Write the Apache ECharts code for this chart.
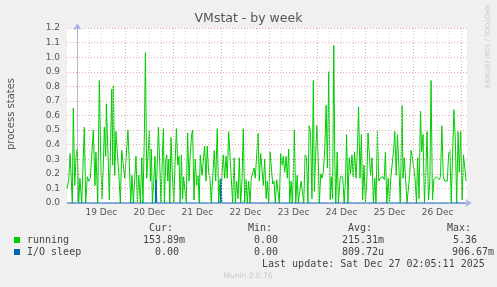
<!DOCTYPE html>
<html><head><meta charset="utf-8">
<script src="https://cdn.jsdelivr.net/npm/echarts@6/dist/echarts.min.js"></script>
<style>html,body{margin:0;padding:0;background:#f0f0f0;}#c{width:497px;height:287px;}</style>
</head><body><div id="c"></div>
<script>
// hours relative to Thu 19 Dec 00:00
const dayLabels = ['19 Dec','20 Dec','21 Dec','22 Dec','23 Dec','24 Dec','25 Dec','26 Dec'];
const dayLabelHours = [12,36,60,84,108,132,156,180];
const runningHours = [
-5.1,-4.3,-3.6,-3.0,-2.5,-2.0,-1.3,-0.6,0,0.7,1.3,2.2,3.5,4.2,5.0,5.7,6.5,7.2,8.0,8.8,9.3,10.2,11.0,11.7,12.3,13.0,13.5,14.2,14.5,15.3,16.0,16.7,17.2,17.7,18.0,18.7,19.3,20.2,20.7,21.5,22.2,23.0,23.7,24.3,25.3,26.0,26.7,27.3,28.0,
28.7,29.3,30.0,30.7,31.5,32.2,32.8,33.5,34.0,34.7,35.3,36.0,36.5,37.0,37.5,38.2,38.8,39.3,39.8,40.5,41.2,41.8,42.5,43.0,43.5,44.2,44.7,45.2,45.7,46.2,46.8,47.5,48.2,48.8,49.5,50.2,50.8,51.4,52.0,52.6,53.1,53.8,54.4,55.1,55.8,56.4,57.1,57.6,58.3,58.9,59.6,60.3,60.9,61.4,
62.3,62.9,63.6,64.3,64.9,65.6,66.3,66.9,67.6,68.4,69.1,69.9,70.6,71.3,71.8,72.3,72.9,73.6,74.3,74.9,75.6,76.3,76.9,77.6,78.3,78.9,79.6,80.3,80.9,81.6,82.3,82.9,83.6,84.3,84.9,85.6,86.3,86.9,87.6,88.3,88.9,89.6,90.3,90.9,91.6,92.3,92.9,93.6,94.3,94.9,
95.6,96.3,96.9,97.6,98.3,98.9,99.6,100.2,100.9,101.6,102.3,102.9,103.6,104.3,104.9,105.6,106.1,106.8,107.4,107.8,108.4,109.1,109.8,110.4,111.1,111.8,112.4,113.1,113.8,114.5,115.2,115.8,116.5,117.2,117.9,118.4,119.0,119.7,120.4,120.9,121.6,122.2,122.9,123.6,124.3,124.9,125.6,126.3,126.8,127.5,128.1,128.6,
129.1,129.8,130.4,131.3,132.0,132.6,133.3,134.0,134.5,135.2,135.8,136.5,137.2,137.8,138.5,139.2,139.9,140.5,141.2,141.9,142.5,143.2,143.9,144.6,145.2,145.9,146.5,147.2,147.9,148.6,149.2,149.9,150.6,151.2,151.9,152.6,153.3,153.9,154.6,155.3,155.9,156.6,157.2,157.9,158.6,159.3,159.9,160.6,161.3,162.0,
162.2,162.7,163.3,164.0,164.7,165.3,166.0,166.7,167.4,168.0,168.7,169.4,170.0,170.7,171.4,172.0,172.7,173.4,174.1,174.7,175.4,176.1,176.7,177.4,178.1,178.8,179.4,180.1,180.8,181.4,182.1,182.8,183.5,184.1,184.8,185.5,186.1,186.8,187.5,188.1,188.8,189.5,190.2,190.8,191.5,192.2,192.9,193.5,194.2
];
const runningValues = [
0.10,0.16,0.34,0.35,0,0.65,0.12,0.32,0.37,0,0.17,0,0.52,0,0.18,0.15,0.17,0.16,0.50,0.12,0.35,0,0.84,0.30,0.03,0.26,0.52,0.32,0.68,0.35,0.02,0.46,0.78,0.26,0.80,0.19,0.49,0.30,0.21,0,0.36,0.35,0.17,0.16,0.50,0.26,0,0.19,0,
0.17,0.32,0,0.19,0,0.31,0,0.47,1.03,0.17,0.17,0.50,0.15,0.37,0,0.15,0.32,0,0,0.52,0.26,0,0.33,0.51,0,0.30,0.33,0.15,0.30,0,0.45,0.19,0,0.26,0.51,0.26,0.32,0,0.33,0.03,0.18,0.17,0,0.48,0.15,0.33,0.47,0.50,0.02,0.30,0.12,0.19,0,0.33,
0.19,0.18,0.39,0.15,0.39,0.21,0.17,0,0,0.36,0.15,0.51,0,0.16,0,0.21,0.33,0.17,0.32,0.17,0.49,0.50,0.17,0,0.31,0,0.15,0.03,0.31,0,0.17,0.51,0,0.16,0,0.15,0,0.17,0.17,0.24,0.17,0.33,0.48,0.15,0.34,0.33,0.12,0.30,0.03,0.15,
0,0.35,0.34,0.13,0.15,0,0.16,0.15,0,0.34,0.26,0.32,0.21,0.32,0.17,0.37,0,0.15,0,0.15,0.50,0,0.19,0,0.08,0.15,0.16,0,0.33,0.31,0,0.53,0.49,0.03,0.84,0.08,0.31,0.53,0.26,0,0.20,0.17,0.21,0.37,0.67,0.24,0.90,0.02,0.18,0.03,1.08,0.30,
0,0.35,0,0.17,0.19,0.17,0,0.17,0.47,0,0.31,0.20,0.33,0.18,0.35,0.17,0.37,0.66,0.17,0.47,0.02,0.26,0,0.15,0.48,0.47,0.19,0.31,0,0.17,0,0.49,0.15,0.17,0.16,0.18,0.16,0.35,0,0.17,0,0.17,0.18,0.35,0.49,0.19,0.47,0.26,0,0.47,
0.67,0.17,0.31,0.16,0,0,0.19,0.36,0.31,0.32,0.17,0,0.31,0.03,0.63,0.35,0.47,0,0.21,0.49,0.02,0.15,0.84,0.02,0.16,0.17,0.18,0.19,0.16,0.18,0.53,0.18,0.15,0.15,0.15,0.34,0.36,0,0.35,0.64,0.44,0,0.49,0.21,0.49,0.02,0.33,0.34,0.15
];
const ioHours = [-5.1, 38.9, 39.3, 39.7, 71.4, 71.8, 72.2, 194.2];
const ioValues = [0, 0, 0.16, 0, 0, 0.17, 0, 0];
const legendNames = ['running', 'I/O sleep'];
const legendColors = ['#00cc00', '#0066b3'];
const statHeaders = ['Cur:', 'Min:', 'Avg:', 'Max:'];
const runningStats = ['153.89m', '0.00', '215.31m', '5.36'];
const ioStats = ['0.00', '0.00', '809.72u', '906.67m'];
const lastUpdate = 'Last update: Sat Dec 27 02:05:11 2025';

const X_MIN = -5.15, X_MAX = 194.65;
const chart = echarts.init(document.getElementById('c'), null, {renderer: 'canvas'});
const gridLines = [];
for (let h = 6; h < X_MAX; h += 6) {
  const major = h % 24 === 0;
  gridLines.push({xAxis: h, lineStyle: {color: major ? '#e8a8a8' : '#d6d6d6', type: [1, 2], width: 1}});
}
gridLines.push({xAxis: 0, lineStyle: {color: '#e8a8a8', type: [1, 2], width: 1}});
const mono = '10px "DejaVu Sans Mono"';
const txt = (text, x, y, opts) => Object.assign({type: 'text', x: x, y: y, silent: true,
  style: Object.assign({text: text, font: mono, fill: '#444', textAlign: 'left', align: 'left', textVerticalAlign: 'middle', verticalAlign: 'middle'}, opts || {})});
const hdrX = [149, 248, 348, 447];
const runX = [143, 254, 342, 453];
const ioX = [155, 254, 342, 452];
const graphics = [];
statHeaders.forEach((t, i) => graphics.push(txt(t, hdrX[i], 228)));
runningStats.forEach((t, i) => graphics.push(txt(t, runX[i], 240)));
ioStats.forEach((t, i) => graphics.push(txt(t, ioX[i], 252)));
legendNames.forEach((n, i) => {
  graphics.push({type: 'rect', silent: true, shape: {x: 14, y: 237 + i * 12, width: 6, height: 6}, style: {fill: legendColors[i]}});
  graphics.push(txt(n, 27, 240 + i * 12));
});
graphics.push(txt(lastUpdate, 262, 264));
graphics.push(txt('Munin 2.0.76', 248, 276, {font: '7.5px "DejaVu Sans"', fill: '#c8c8c8', textAlign: 'center', align: 'center'}));
graphics.push({type: 'text', x: 11, y: 114, rotation: Math.PI / 2, silent: true,
  style: {text: 'process states', font: '10px "DejaVu Sans"', fill: '#555', textAlign: 'center', align: 'center', textVerticalAlign: 'middle', verticalAlign: 'middle'}});
graphics.push({type: 'text', x: 487, y: 5, rotation: -Math.PI / 2, silent: true,
  style: {text: 'RRDTOOL / TOBI OETIKER', font: '6.5px "DejaVu Sans"', fill: '#c8c8c8', textAlign: 'left', align: 'left', textVerticalAlign: 'middle', verticalAlign: 'middle'}});

chart.setOption({
  animation: false,
  backgroundColor: '#f0f0f0',
  title: {text: 'VMstat - by week', left: 'center', top: 12, padding: 0,
    textStyle: {fontSize: 12.5, fontWeight: 'normal', color: '#555', fontFamily: 'DejaVu Sans'}},
  grid: {left: 67, right: 30, top: 28, bottom: 84, show: true, backgroundColor: '#ffffff', borderWidth: 0},
  xAxis: {type: 'value', min: X_MIN, max: X_MAX,
    axisLine: {show: true, lineStyle: {color: '#a8b4e8', width: 1}, symbol: ['none', 'arrow'], symbolSize: [6, 7], symbolOffset: [0, 5]},
    axisTick: {show: false}, splitLine: {show: false},
    axisLabel: {customValues: dayLabelHours, formatter: v => dayLabels[dayLabelHours.indexOf(v)] || '',
      fontSize: 9, color: '#555', margin: 5, fontFamily: 'DejaVu Sans'}},
  yAxis: {type: 'value', min: 0, max: 1.2, interval: 0.1,
    axisLine: {show: true, lineStyle: {color: '#a8b4e8', width: 1}, symbol: ['none', 'arrow'], symbolSize: [6, 7], symbolOffset: [0, 5]},
    axisTick: {show: false},
    splitLine: {show: true, lineStyle: {color: '#e8a8a8', type: [1, 2], width: 1}},
    axisLabel: {formatter: v => v.toFixed(1), fontSize: 9, color: '#555', margin: 7, fontFamily: 'DejaVu Sans'}},
  series: [
    {type: 'line', data: [], z: 1, silent: true,
      markLine: {silent: true, symbol: ['none', 'none'], label: {show: false}, animation: false, data: gridLines}},
    {name: 'running', type: 'line', z: 3, showSymbol: false, silent: true,
      lineStyle: {color: '#00cc00', width: 1}, data: runningHours.map((h, i) => [h, runningValues[i]])},
    {name: 'I/O sleep', type: 'line', z: 4, showSymbol: false, silent: true,
      lineStyle: {color: '#0066b3', width: 1}, data: ioHours.map((h, i) => [h, ioValues[i]])}
  ],
  graphic: graphics
});
</script></body></html>
